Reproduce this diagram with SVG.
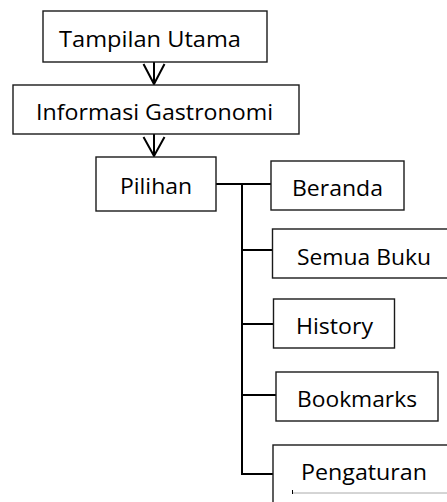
<svg xmlns="http://www.w3.org/2000/svg" width="447" height="502" viewBox="0 0 447 502">
<style>
.box{fill:#fff;stroke:#1a1a1a;stroke-width:1.4}
.t{font-family:"Open Sans","Noto Sans","Liberation Sans",sans-serif;font-size:21px;fill:#000}
.ln{stroke:#000;stroke-width:2;fill:none}
.ah{stroke:#000;stroke-width:2;fill:none;stroke-linejoin:miter}
</style>
<g id="connectors">
<line class="ln" x1="154" y1="62" x2="154" y2="84"/>
<polyline class="ah" points="143.5,64 154,84 164.5,64"/>
<line class="ln" x1="154" y1="134" x2="154" y2="156"/>
<polyline class="ah" points="143.5,137 154,156 164.5,137"/>
<line class="ln" x1="216" y1="184" x2="271" y2="184"/>
<line class="ln" x1="242" y1="184" x2="242" y2="474"/>
<line class="ln" x1="242" y1="250" x2="272" y2="250"/>
<line class="ln" x1="242" y1="324" x2="273" y2="324"/>
<line class="ln" x1="242" y1="395" x2="276" y2="395"/>
<line class="ln" x1="241" y1="474" x2="273" y2="474"/>
</g>
<g id="tampilan-utama">
<rect class="box" x="43" y="11" width="224" height="51"/>
<text class="t" x="59" y="47" textLength="182" lengthAdjust="spacingAndGlyphs">Tampilan Utama</text>
</g>
<g id="informasi-gastronomi">
<rect class="box" x="13" y="85" width="286" height="49"/>
<text class="t" x="36" y="120" textLength="237" lengthAdjust="spacingAndGlyphs">Informasi Gastronomi</text>
</g>
<g id="pilihan">
<rect class="box" x="96" y="157" width="120" height="54"/>
<text class="t" x="120" y="194" textLength="72" lengthAdjust="spacingAndGlyphs">Pilihan</text>
</g>
<g id="beranda">
<rect class="box" x="271" y="161" width="133" height="49"/>
<text class="t" x="292" y="196" textLength="91" lengthAdjust="spacingAndGlyphs">Beranda</text>
</g>
<g id="semua-buku">
<rect class="box" x="272.5" y="229" width="180" height="49"/>
<text class="t" x="297" y="265" textLength="134" lengthAdjust="spacingAndGlyphs">Semua Buku</text>
</g>
<g id="history">
<rect class="box" x="273.5" y="299" width="121" height="49"/>
<text class="t" x="296" y="334" textLength="77" lengthAdjust="spacingAndGlyphs">History</text>
</g>
<g id="bookmarks">
<rect class="box" x="276" y="372" width="162" height="49"/>
<text class="t" x="297" y="407" textLength="120" lengthAdjust="spacingAndGlyphs">Bookmarks</text>
</g>
<g id="pengaturan">
<rect class="box" x="273" y="445" width="180" height="70"/>
<text class="t" x="301" y="480" textLength="126" lengthAdjust="spacingAndGlyphs">Pengaturan</text>
<line x1="292" y1="493" x2="447" y2="493" stroke="#aaa" stroke-width="1"/>
<line x1="292.5" y1="490" x2="292.5" y2="494" stroke="#000" stroke-width="1"/>
</g>
</svg>
